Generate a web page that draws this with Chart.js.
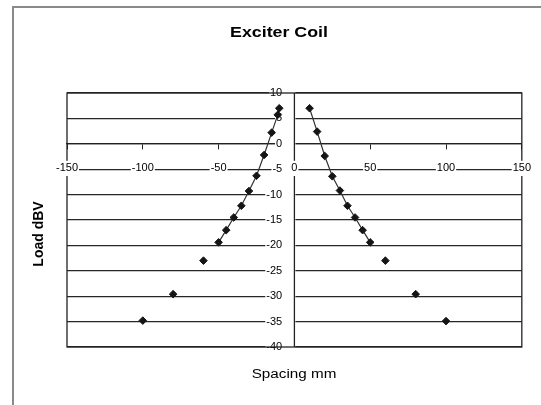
<!DOCTYPE html>
<html>
<head>
<meta charset="utf-8">
<script src="https://cdn.jsdelivr.net/npm/chart.js@4.4.1/dist/chart.umd.min.js"></script>
<style>
  body { margin: 0; background: #fff; overflow: hidden; }
</style>
</head>
<body>
<canvas id="coil_chart" width="544" height="405"></canvas>
<script>
// measured points, spacing in mm and level in dBV
const leftX = [-10, -11, -15, -20, -25, -30, -35, -40, -45, -50];
const leftY = [7.0, 5.7, 2.2, -2.2, -6.3, -9.3, -12.2, -14.5, -17.0, -19.4];
const rightX = [10, 15, 20, 25, 30, 35, 40, 45, 50];
const rightY = [7.0, 2.4, -2.4, -6.4, -9.2, -12.2, -14.5, -17.0, -19.4];
const farX = [-100, -80, -60, 60, 80, 100];
const farY = [-34.8, -29.6, -23.0, -23.0, -29.6, -34.9];

const xTicks = [-150, -100, -50, 0, 50, 100, 150];
const yTicks = [-40, -35, -30, -25, -20, -15, -10, -5, 0, 5, 10];

const chartTitle = "Exciter Coil";
const xTitle = "Spacing mm";
const yTitle = "Load dBV";

function pts(xs, ys) {
  return xs.map((x, i) => ({ x: x, y: ys[i] }));
}

const markerStyle = {
  pointStyle: "rectRot",
  pointRadius: 3.8,
  pointBackgroundColor: "#151515",
  pointBorderColor: "#151515",
  pointBorderWidth: 1,
};

// frame, plot border, y axis line and the three captions
const decor = {
  id: "decor",
  beforeDraw(chart) {
    const c = chart.ctx;
    c.save();
    c.strokeStyle = "#8a8a8a";
    c.lineWidth = 2;
    c.strokeRect(13, 7, 600, 600);
    c.restore();
  },
  beforeDatasetsDraw(chart) {
    const a = chart.chartArea;
    const c = chart.ctx;
    const x0 = chart.scales.x.getPixelForValue(0);
    c.save();
    c.strokeStyle = "#222";
    c.lineWidth = 1.3;
    c.strokeRect(a.left, a.top, a.right - a.left, a.bottom - a.top);
    c.beginPath();
    c.moveTo(x0, a.top);
    c.lineTo(x0, a.bottom);
    c.stroke();
    c.restore();
  },
  afterDraw(chart) {
    const c = chart.ctx;
    c.save();
    c.fillStyle = "#000";
    c.textAlign = "center";
    c.textBaseline = "middle";

    c.save();
    c.translate(279, 33);
    c.scale(1.27, 1);
    c.font = "bold 14px 'Liberation Sans', Arial";
    c.fillText(chartTitle, 0, 0);
    c.restore();

    c.save();
    c.translate(294, 375);
    c.scale(1.27, 1);
    c.font = "12px 'Liberation Sans', Arial";
    c.fillText(xTitle, 0, 0);
    c.restore();

    c.save();
    c.translate(39, 234);
    c.rotate(-Math.PI / 2);
    c.font = "bold 14px 'Liberation Sans', Arial";
    c.fillText(yTitle, 0, 0);
    c.restore();

    c.restore();
  },
};

let ctx = document.getElementById("coil_chart").getContext("2d");
let coilChart = new Chart(ctx, {
  type: "scatter",
  data: {
    datasets: [
      Object.assign({ label: "left", data: pts(leftX, leftY), showLine: true, borderColor: "#333", borderWidth: 1.2 }, markerStyle),
      Object.assign({ label: "right", data: pts(rightX, rightY), showLine: true, borderColor: "#333", borderWidth: 1.2 }, markerStyle),
      Object.assign({ label: "far", data: pts(farX, farY), showLine: false }, markerStyle),
    ],
  },
  options: {
    responsive: false,
    animation: false,
    devicePixelRatio: 1,
    layout: {
      padding: { left: 67, right: 16, top: 93, bottom: 58 },
    },
    plugins: {
      legend: { display: false },
      tooltip: { enabled: false },
      title: { display: false },
    },
    scales: {
      x: {
        type: "linear",
        position: { y: 0 },
        min: -150,
        max: 150,
        afterBuildTicks: (axis) => { axis.ticks = xTicks.map((v) => ({ value: v })); },
        grid: { display: true, drawOnChartArea: false, drawTicks: true, tickLength: 5, color: "#222" },
        border: { display: true, color: "#222", width: 1.3 },
        ticks: {
          z: 1,
          padding: 13,
          color: "#000",
          font: { family: "'Liberation Sans', Arial", size: 11 },
          maxRotation: 0,
          showLabelBackdrop: true,
          backdropColor: "#fff",
          backdropPadding: 1,
        },
      },
      y: {
        type: "linear",
        position: { x: 0 },
        min: -40,
        max: 10,
        afterBuildTicks: (axis) => { axis.ticks = yTicks.map((v) => ({ value: v })); },
        grid: { display: true, drawOnChartArea: true, drawTicks: false, color: "#262626", lineWidth: 1.3 },
        border: { display: false },
        ticks: {
          // centred axes ignore padding, so keep the labels off the axis line
          callback: (v) => v + "    ",
          color: "#000",
          font: { family: "'Liberation Sans', Arial", size: 11 },
          showLabelBackdrop: true,
          backdropColor: "#fff",
          backdropPadding: 1,
        },
      },
    },
  },
  plugins: [decor],
});
</script>
</body>
</html>
